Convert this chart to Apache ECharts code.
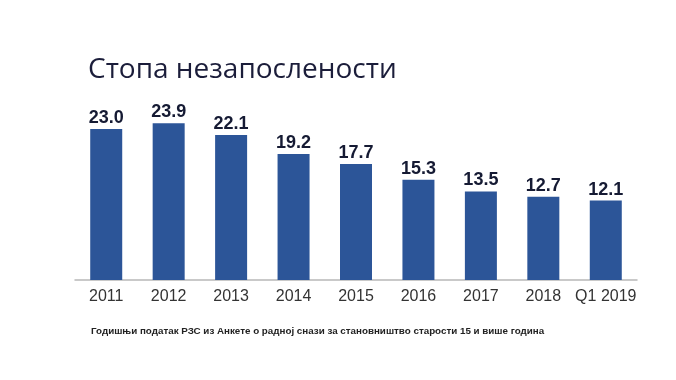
<!DOCTYPE html>
<html><head><meta charset="utf-8">
<script src="https://cdn.jsdelivr.net/npm/echarts@6/dist/echarts.min.js"></script>
<style>html,body{margin:0;padding:0;background:#fff}#c{width:676px;height:380px}</style>
</head><body><div id="c"></div>
<script>
const categories = ['2011','2012','2013','2014','2015','2016','2017','2018','Q1 2019'];
const values = [23.0, 23.9, 22.1, 19.2, 17.7, 15.3, 13.5, 12.7, 12.1];
const titleText = 'Стопа незапослености';
const noteText = 'Годишњи податак РЗС из Анкете о радној снази за становништво старости 15 и више година';

const chart = echarts.init(document.getElementById('c'), null, {renderer:'canvas'});
chart.setOption({
  backgroundColor:'#ffffff',
  animation:false,
  title:[
    {text:titleText, left:83, top:51, textStyle:{fontFamily:'Open Sans', fontWeight:'normal', fontSize:28, color:'#1b1d3a'}},
    {text:noteText, left:86, top:321, textStyle:{fontFamily:'Liberation Sans', fontWeight:'bold', fontSize:9.8, color:'#222'}}
  ],
  grid:{left:75, right:39, top:116, bottom:100},
  xAxis:{type:'category', data:categories,
    axisLine:{lineStyle:{color:'#b8b8b8', width:1.5}},
    axisTick:{show:false},
    axisLabel:{interval:0, fontFamily:'Liberation Sans', fontSize:16, color:'#333', margin:9}},
  yAxis:{type:'value', min:0, max:25, show:false, splitLine:{show:false}},
  series:[{type:'bar', data:values, barWidth:32, itemStyle:{color:'#2c5598'},
    label:{show:true, position:'top', distance:2, formatter:p=>p.value.toFixed(1),
      fontFamily:'Liberation Sans', fontWeight:'bold', fontSize:18, color:'#151a33'}}]
});
</script></body></html>
